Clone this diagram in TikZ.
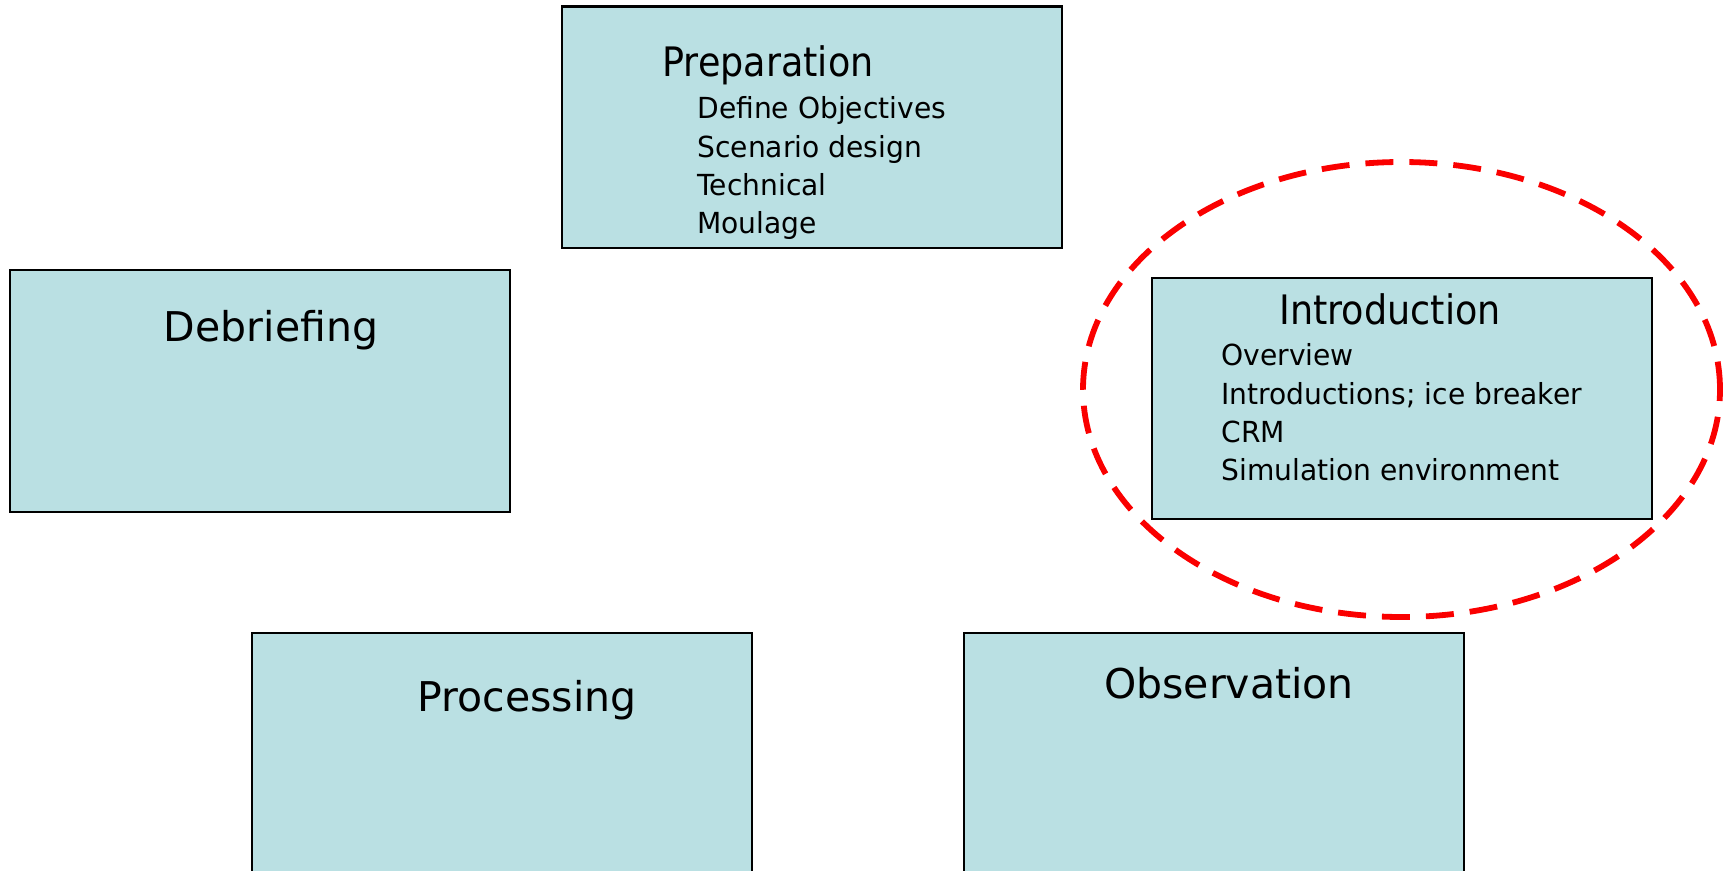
\documentclass[tikz,border=0pt]{standalone}
\usepackage{fontspec}
\setmainfont{DejaVu Sans}
\newfontfamily\headfont[FakeStretch=0.9]{DejaVu Sans}
\newfontfamily\itemfont[FakeStretch=0.97]{DejaVu Sans}
\definecolor{boxfill}{RGB}{186,224,227}
\definecolor{ringred}{RGB}{250,0,0}

\begin{document}
\begin{tikzpicture}[x=0.5pt,y=-0.5pt,
  stage/.style={draw=black, line width=1.1pt, fill=boxfill, anchor=north west,
                inner sep=0pt, minimum width=250pt},
  stagehead/.style={inner sep=0pt, anchor=base west,
                    font=\headfont\fontsize{20.3}{24}\selectfont},
  listitem/.style={inner sep=0pt, anchor=base west,
                   font=\itemfont\fontsize{14.5}{17}\selectfont},
  bigtitle/.style={inner sep=0pt, anchor=base,
                   font=\fontsize{20.5}{24}\selectfont},
  ring/.style={draw=ringred, line width=2.9pt, dash pattern=on 14pt off 8pt}]

\useasboundingbox (0,0) rectangle (1729,871);
\clip (0,0) rectangle (1729,871);

% stage boxes
\node[stage, minimum height=120.75pt] (prep)    at (561,5.5) {};
\node[stage, minimum height=121pt]    (debrief) at (9,269) {};
\node[stage, minimum height=120.5pt]  (intro)   at (1151,277) {};
\node[stage, minimum height=150pt]    (proc)    at (251,632) {};
\node[stage, minimum height=150pt]    (obs)     at (963,632) {};

% Preparation
\node[stagehead] (prep-title) at (662,77) {Preparation};
\foreach \t [count=\i] in {Define Objectives, Scenario design, Technical, Moulage}
  \node[listitem] (prep-\i) at (697,{119+38.3*(\i-1)}) {\t};

% Introduction
\node[stagehead] (intro-title) at (1279,325) {Introduction};
\foreach \t [count=\i] in {Overview, {Introductions; ice breaker}, CRM, Simulation environment}
  \node[listitem] (intro-\i) at (1221,{366+38.3*(\i-1)}) {\t};

% single-title stages
\node[bigtitle] (debrief-title) at (271,342) {Debriefing};
\node[bigtitle] (proc-title)    at (527,711) {Processing};
\node[bigtitle] (obs-title)     at (1229,698) {Observation};

% highlight ring around the introduction stage
\draw[ring] (1401.5,389.5) ellipse [x radius=159.25pt, y radius=113.75pt];
\end{tikzpicture}
\end{document}
